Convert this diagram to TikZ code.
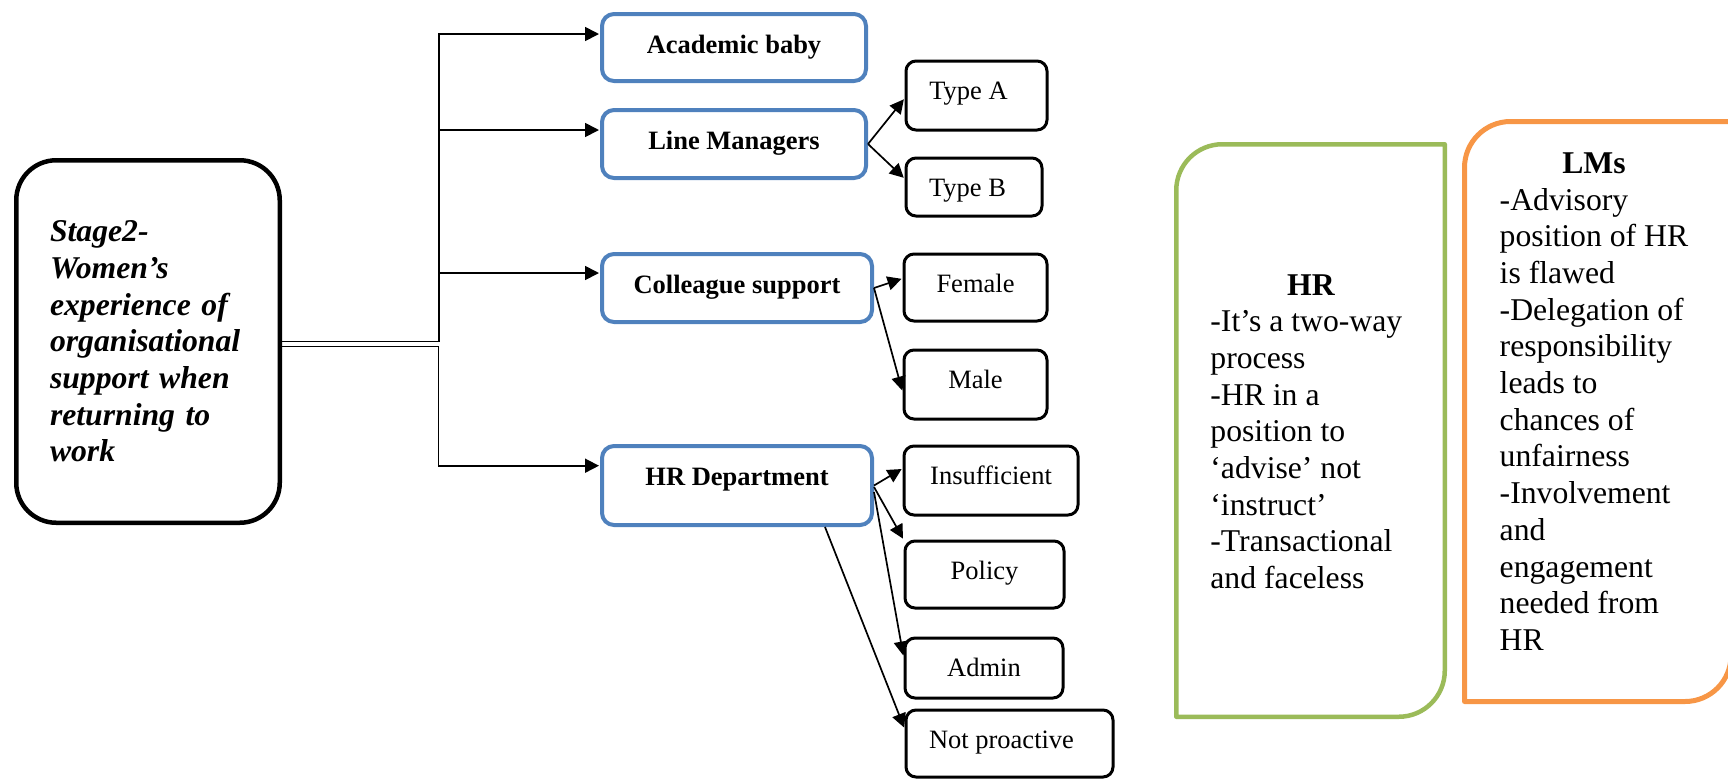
\documentclass[tikz,border=0pt]{standalone}
\usepackage{fontspec}
\setmainfont{Liberation Serif}
\usetikzlibrary{arrows.meta}
\definecolor{accblue}{HTML}{4F81BD}
\definecolor{accgreen}{HTML}{9BBB59}
\definecolor{accorange}{HTML}{F79646}
\newcommand\largetext{\fontsize{15.85pt}{18.35pt}\selectfont}
\newcommand\smalltext{\fontsize{13.25pt}{15.2pt}\selectfont}

\begin{document}
\begin{tikzpicture}[x=0.5pt,y=-0.5pt,
  mainbox/.style={draw, line width=2.25pt, rounded corners=20pt,
    minimum width=131.75pt, minimum height=181.25pt, text width=98pt,
    align=left, inner sep=0pt, font=\largetext\bfseries\itshape},
  topicbox/.style={draw=accblue, line width=2pt, rounded corners=6pt,
    inner sep=0pt, text height=19.5pt, anchor=north west,
    font=\smalltext\bfseries},
  leafbox/.style={draw, line width=1.5pt, rounded corners=5pt,
    inner sep=0pt, text height=19pt, anchor=north west, font=\smalltext},
  link/.style={line width=0.85pt, -{Triangle[length=7pt,width=7pt]},
    shorten >=0.5pt},
  note/.style={inner sep=0pt, font=\largetext},
]
\useasboundingbox (0,0) rectangle (1728,778);

% central theme
\node[mainbox] (stage) at (148,341.5)
  {Stage2-\\Women’s\\experience of\\organisational\\support when\\returning to\\work};

% sources of support
\node[topicbox, minimum width=132pt, text depth=14pt]   (acad) at (600,12)  {Academic baby};
\node[topicbox, minimum width=132pt, text depth=14.5pt] (lm)   at (600,108) {Line Managers};
\node[topicbox, minimum width=135pt, text depth=14.5pt] (coll) at (600,252) {Colleague support};
\node[topicbox, minimum width=135pt, text depth=20pt]   (hrd)  at (600,444) {HR Department};

% sub-themes
\node[leafbox, minimum width=70.5pt, text depth=15.5pt] (typea)  at (904.5,59.5)  {Type A\hspace*{8pt}};
\node[leafbox, minimum width=68pt,   text depth=10pt]   (typeb)  at (904.5,156.5) {Type B\hspace*{6.5pt}};
\node[leafbox, minimum width=71.5pt, text depth=14.5pt] (female) at (902.5,252.5) {Female};
\node[leafbox, minimum width=71.5pt, text depth=15.5pt] (male)   at (902.5,348.5) {Male};
\node[leafbox, minimum width=87pt,   text depth=15.5pt] (insuff) at (902.5,444.5) {Insufficient};
\node[leafbox, minimum width=79.5pt, text depth=14.5pt] (policy) at (903.5,539.5) {Policy};
\node[leafbox, minimum width=79pt,   text depth=11pt]   (admin)  at (903.5,636.5) {Admin};
\node[leafbox, minimum width=103.5pt,text depth=14.5pt] (notpro) at (904.5,708.5) {Not proactive\hspace*{8pt}};

% tree from the central theme
\coordinate (ja) at (439,34);
\coordinate (jb) at (439,130);
\coordinate (jc) at (439,273);
\coordinate (jd) at (438.5,465.7);
\draw[link] (stage.east) -| (ja) -- (acad.west |- ja);
\draw[link] (jb) -- (lm.west |- jb);
\draw[link] (jc) -- (coll.west |- jc);
\draw[link] ([yshift=-2.5pt]stage.east) -| (jd) -- (hrd.west |- jd);

% branches to the sub-themes
\draw[link] (lm.east) -- ([yshift=-1.5pt]typea.west);
\draw[link] (lm.east) -- ([yshift=4.25pt]typeb.west);
\draw[link] (coll.east) -- ([yshift=4.5pt]female.west);
\draw[link] (coll.east) -- ([yshift=-3.5pt]male.west);
\draw[link] (hrd.east) -- ([yshift=6pt]insuff.west);
\draw[link] ([yshift=-0.75pt]hrd.east) -- (policy.north west);
\draw[link] ([yshift=-3.25pt]hrd.east) -- ([yshift=5.75pt]admin.west);
\draw[link] ([xshift=44pt]hrd.south) -- ([yshift=7.5pt]notpro.west);

% HR panel
\draw[accgreen, line width=2.25pt, line join=round]
  (1176.25,716.75) -- (1176.25,190.25)
  .. controls (1176.25,164.85) and (1196.85,144.25) .. (1222.25,144.25)
  -- (1444.75,144.25) -- (1444.75,670.75)
  .. controls (1444.75,696.15) and (1424.15,716.75) .. (1398.75,716.75)
  -- cycle;
\node[note, anchor=base, font=\largetext\bfseries] (hrtitle) at (1311,295) {HR};
\node[note, anchor=base west] (hrlist) at (1210,331.7)
  {\begin{tabular}[t]{@{}l@{}}-It’s a two-way\\process\\-HR in a\\position to\\‘advise’ not\\‘instruct’\\-Transactional\\and faceless\end{tabular}};

% LMs panel
\draw[accorange, line width=2.5pt, line join=round]
  (1464.5,701.5) -- (1464.5,167.5)
  .. controls (1464.5,142.1) and (1485.1,121.5) .. (1510.5,121.5)
  -- (1731,121.5) -- (1731,655.5)
  .. controls (1731,680.9) and (1710.4,701.5) .. (1685,701.5)
  -- cycle;
\node[note, anchor=base, font=\largetext\bfseries] (lmtitle) at (1594,173) {LMs};
\node[note, anchor=base west] (lmlist) at (1499.3,210)
  {\begin{tabular}[t]{@{}l@{}}-Advisory\\position of HR\\is flawed\\-Delegation of\\responsibility\\leads to\\chances of\\unfairness\\-Involvement\\and\\engagement\\needed from\\HR\end{tabular}};
\end{tikzpicture}
\end{document}
